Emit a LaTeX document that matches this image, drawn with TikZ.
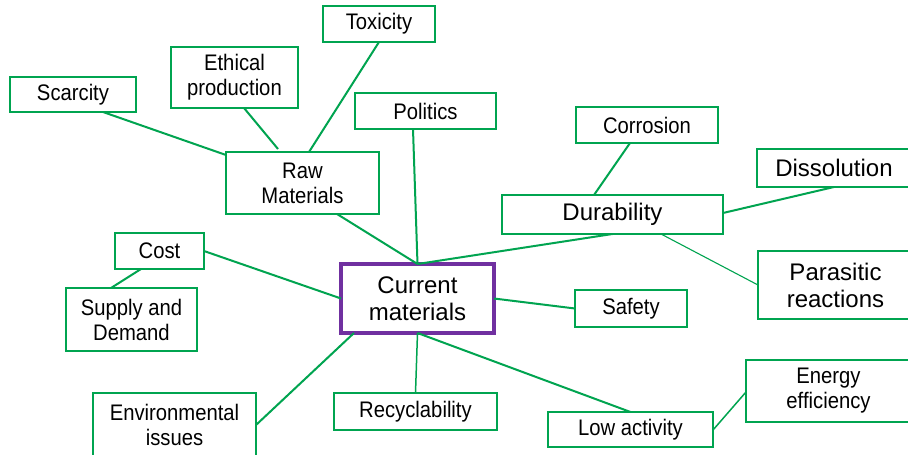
\documentclass[tikz,border=0pt]{standalone}
\usepackage{fontspec}
\setmainfont{Liberation Sans}
\newfontfamily\smallf{Liberation Sans}[FakeStretch=0.9]
\usetikzlibrary{calc}
\definecolor{mygreen}{RGB}{0,164,80}
\definecolor{mypurple}{RGB}{112,48,160}
\tikzset{
  box/.style={draw=mygreen, line width=2pt, fill=white, inner sep=0pt, outer sep=0pt,
    align=center, font=\smallf\fontsize{22.5}{25}\selectfont},
  bigbox/.style={box, font=\fontsize{24}{27}\selectfont},
  curbox/.style={draw=mypurple, line width=4pt, fill=white, inner sep=0pt, outer sep=0pt,
    align=center, font=\fontsize{24}{27}\selectfont},
  sz/.style 2 args={minimum width=#1pt, minimum height=#2pt},
  conn/.style={draw=mygreen, line width=2pt},
  medconn/.style={draw=mygreen, line width=1.5pt},
  thinconn/.style={draw=mygreen, line width=1.1pt}
}
\begin{document}
\begin{tikzpicture}[x=1pt,y=-1pt]
\clip (0,0) rectangle (908,455);
\fill[white] (0,0) rectangle (908,455);
% nodes
\node[box, sz={112}{36}] (tox) at (379,24) {Toxicity};
\node[box, sz={127}{61}] (eth) at (234.5,77.5) {Ethical\\production};
\node[box, sz={126}{35}] (scar) at (73,94.5) {Scarcity};
\node[box, sz={141}{36}] (pol) at (425.5,111) {Politics};
\node[box, sz={153}{62}] (raw) at (302.5,183) {Raw\\Materials};
\node[box, sz={142}{36}] (corr) at (647,125) {Corrosion};
\node[bigbox, sz={154}{38}] (diss) at (834,168) {Dissolution};
\node[bigbox, sz={221}{39}] (dur) at (612.5,214.5) {Durability};
\node[bigbox, sz={155}{68}] (para) at (835.5,285) {Parasitic\\reactions};
\node[box, sz={89}{36}] (cost) at (159.5,251) {Cost};
\node[box, sz={131}{63}] (sup) at (131.5,319.5) {Supply and\\Demand};
\node[curbox, sz={153}{69}] (cur) at (417.5,298.5) {Current\\materials};
\node[box, sz={112}{37}] (safe) at (631,308.5) {Safety};
\node[box, sz={163}{63}] (env) at (174.5,424.5) {Environmental\\issues};
\node[box, sz={163}{37}] (rec) at (415.5,411.5) {Recyclability};
\node[box, sz={165}{35}] (low) at (630.5,429.5) {Low activity};
\node[box, sz={165}{62}] (ene) at (828.5,391) {Energy\\efficiency};
% connectors
\draw[conn] ([xshift=30pt]scar.south) -- ([yshift=-3pt]raw.north west);
\draw[conn] ([xshift=9.5pt]eth.south) -- ([xshift=-24.5pt,yshift=3pt]raw.north);
\draw[conn] (tox.south) -- ([xshift=6.5pt]raw.north);
\draw[conn] ([xshift=-12.5pt]pol.south) -- (cur.north);
\draw[conn] ([xshift=34.5pt]raw.south) -- (cur.north);
\draw[conn] (dur.south) -- (cur.north);
\draw[conn] ([xshift=-17pt]corr.south) -- ([xshift=-18.5pt]dur.north);
\draw[conn] (diss.south) -- ([yshift=1.5pt]dur.east);
\draw[thinconn] ([xshift=48.5pt]dur.south) -- (para.west);
\draw[conn] (cost.east) -- (cur.west);
\draw[conn] ([xshift=-18.5pt]cost.south) -- ([xshift=-20.5pt]sup.north);
\draw[conn] (cur.east) -- (safe.west);
\draw[conn] ([xshift=-63.5pt]cur.south) -- ([yshift=-0.5pt]env.east);
\draw[medconn] (cur.south) -- (rec.north);
\draw[conn] (cur.south) -- (low.north);
\draw[medconn] ([yshift=-0.5pt]low.east) -- ([yshift=-1pt]ene.west);
\end{tikzpicture}
\end{document}
